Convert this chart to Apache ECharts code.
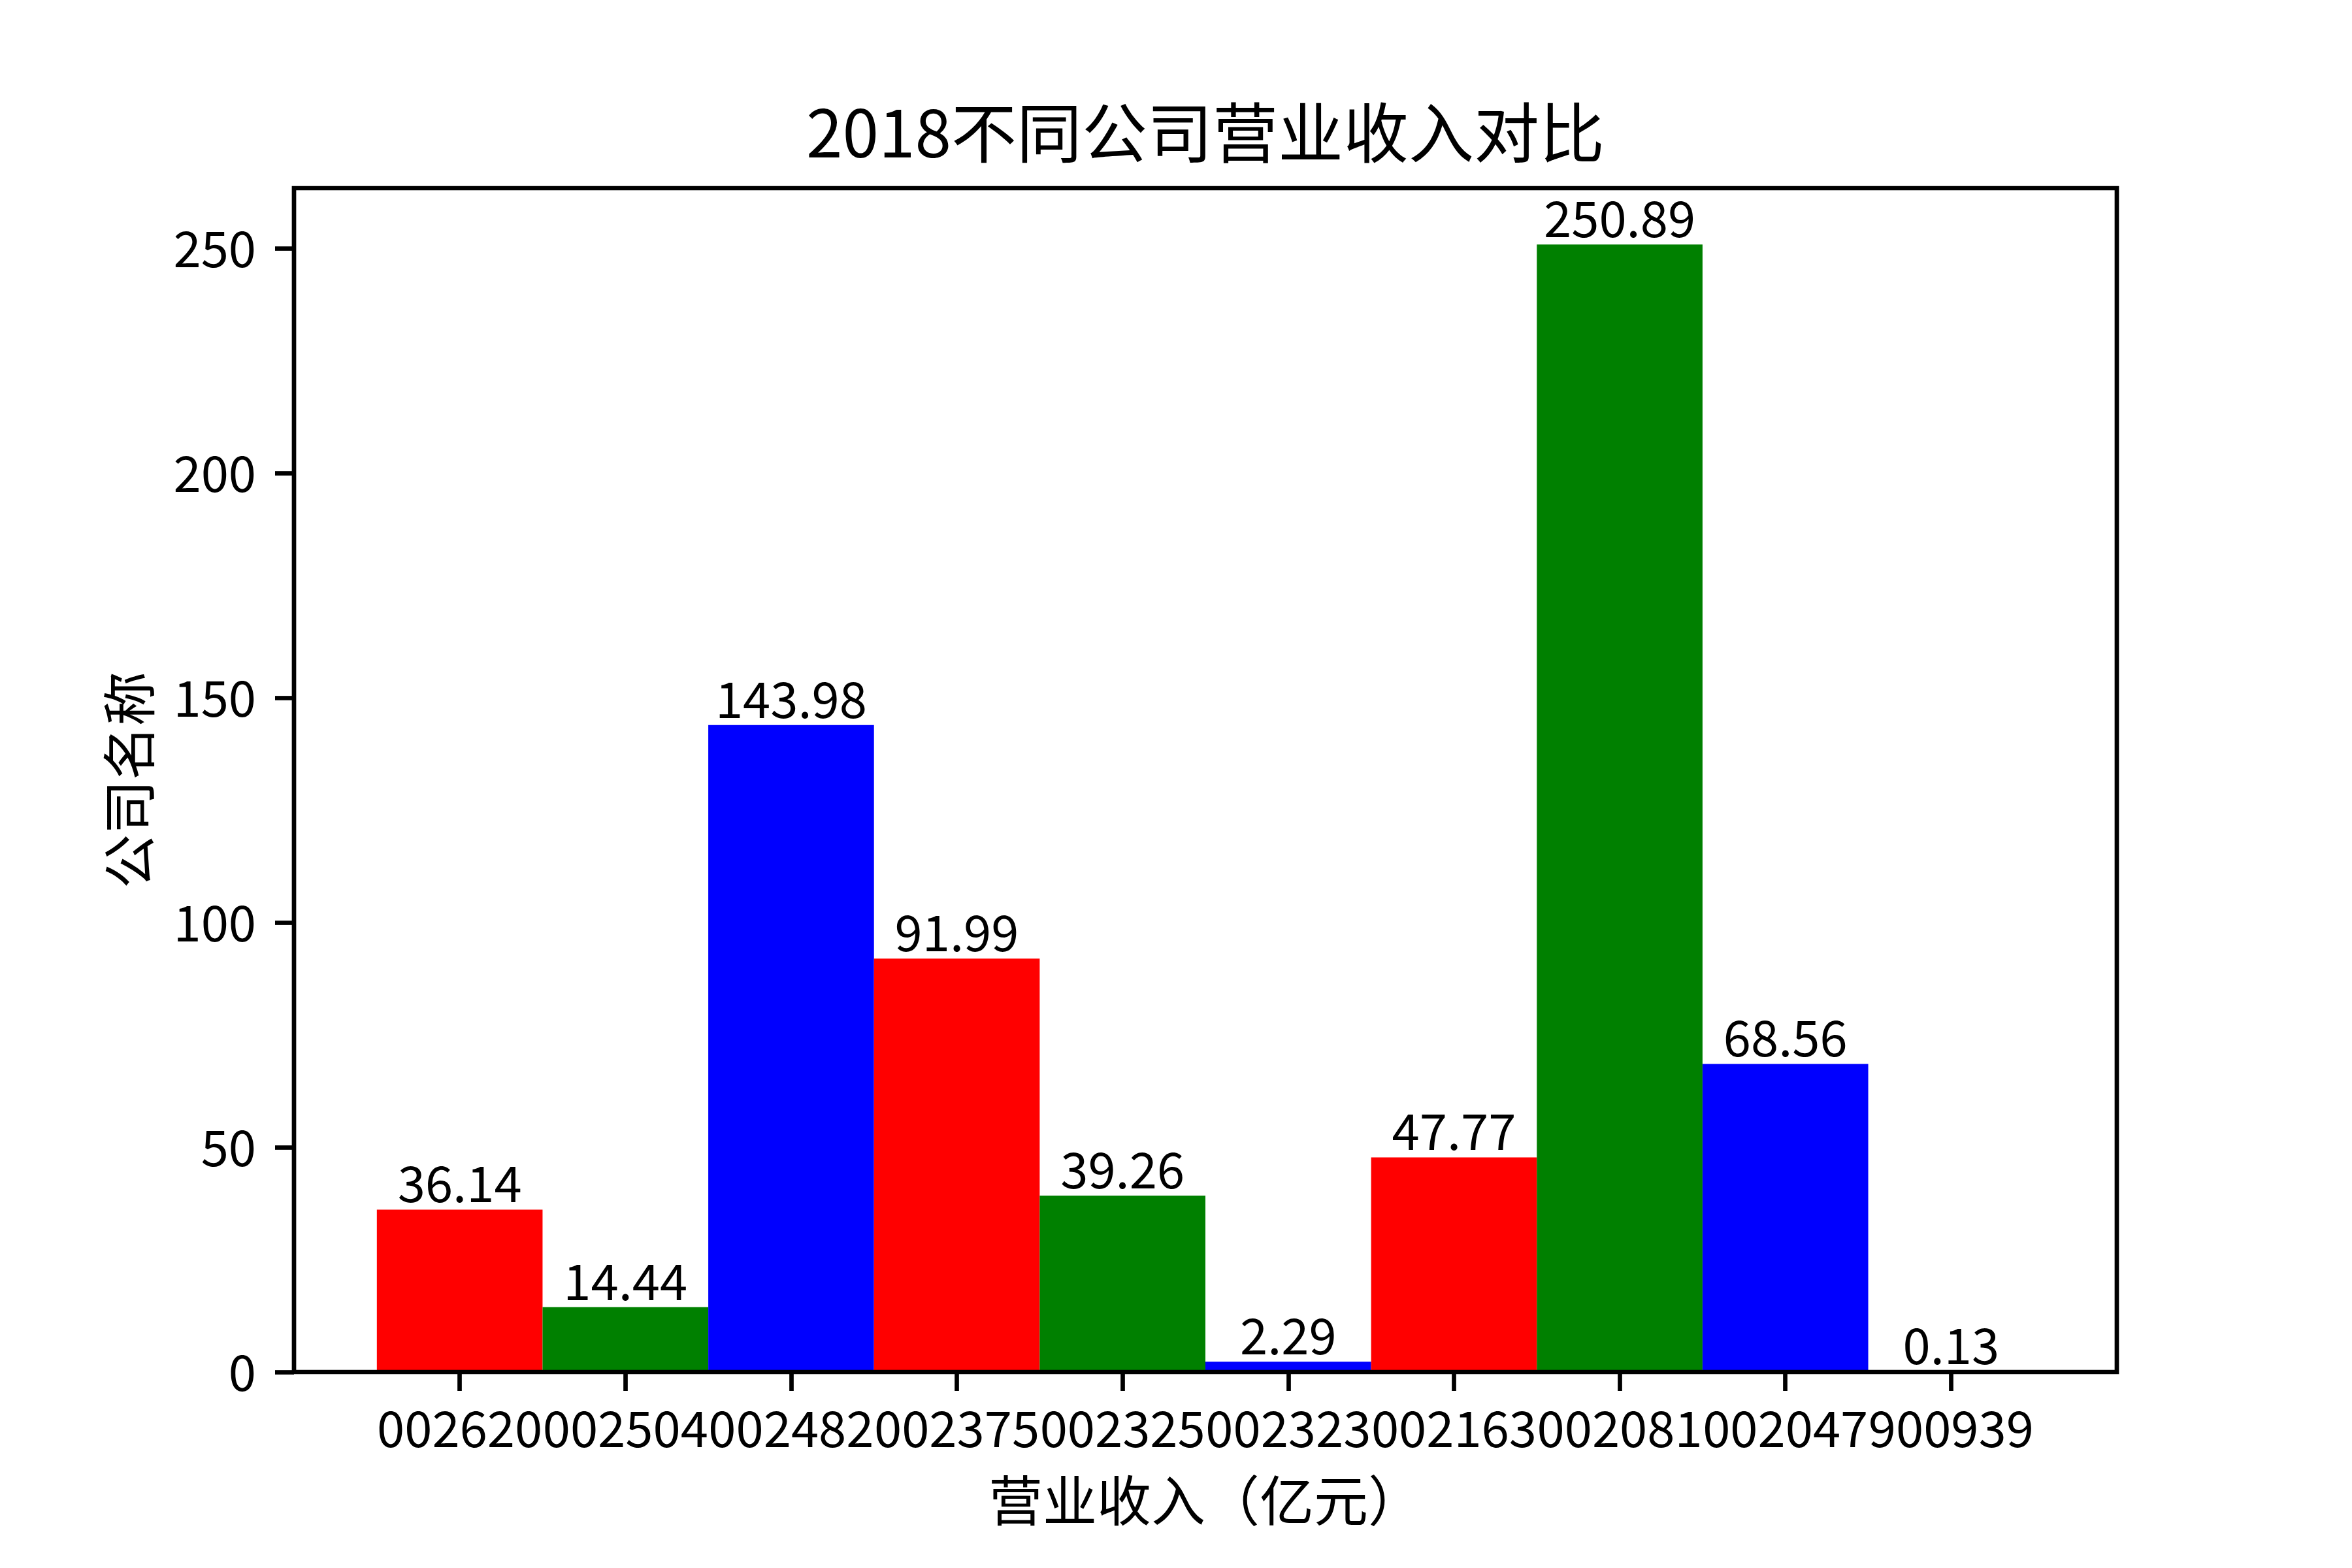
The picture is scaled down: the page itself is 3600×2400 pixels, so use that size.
<!DOCTYPE html>
<html><head><meta charset="utf-8">
<script src="https://cdn.jsdelivr.net/npm/echarts@6/dist/echarts.min.js"></script>
<style>html,body{margin:0;padding:0;background:#fff}#c{width:3600px;height:2400px}</style>
</head><body><div id="c"></div>
<script>
const categories = ['002620','002504','002482','002375','002325','002323','002163','002081','002047','900939'];
const revenue = [36.14,14.44,143.98,91.99,39.26,2.29,47.77,250.89,68.56,0.13];
const barColors = ['#ff0000','#008000','#0000ff'];
const yTicks = [0,50,100,150,200,250];
const titleText = '2018不同公司营业收入对比';
const xName = '营业收入（亿元）';
const yName = '公司名称';

const yMax = Math.max(...revenue) * 1.05;
const W = 3600, H = 2400;
const L = 450, R = 360, T = 288, B = 300;
const unit = (W - L - R) / (categories.length + 1);
const FONT = '"Noto Sans CJK SC", "Noto Sans", sans-serif';

const chart = echarts.init(document.getElementById('c'), null, {renderer: 'canvas', devicePixelRatio: 1});
chart.setOption({
  animation: false,
  backgroundColor: '#fff',
  graphic: [{
    type: 'text', x: (L + W - R) / 2, y: 203, z: 100,
    style: {text: titleText, fontSize: 100, fontFamily: FONT, fill: '#000',
      align: 'center', verticalAlign: 'middle', textAlign: 'center', textVerticalAlign: 'middle'}
  }],
  grid: [
    {left: L, right: R, top: T, bottom: B, show: true, z: 10, borderColor: '#000', borderWidth: 6.7, backgroundColor: 'transparent'},
    {left: L + unit / 2, right: R + unit / 2, top: T, bottom: B}
  ],
  xAxis: [
    {gridIndex: 0, type: 'value', min: 0, max: 1, show: false},
    {gridIndex: 1, type: 'category', data: categories, boundaryGap: true,
      axisLine: {show: false},
      axisTick: {show: true, alignWithLabel: true, length: 29, lineStyle: {color: '#000', width: 6.7}},
      axisLabel: {interval: 0, margin: 48, fontSize: 76, fontFamily: FONT, color: '#000', lineHeight: 76},
      splitLine: {show: false},
      name: xName, nameLocation: 'middle', nameGap: 155,
      nameTextStyle: {fontSize: 83, fontFamily: FONT, color: '#000', lineHeight: 83}}
  ],
  yAxis: [
    {gridIndex: 0, type: 'value', min: 0, max: yMax, interval: 50,
      axisLine: {show: false},
      axisTick: {show: true, length: 29, lineStyle: {color: '#000', width: 6.7}, customValues: yTicks},
      axisLabel: {margin: 58, fontSize: 76, fontFamily: FONT, color: '#000', customValues: yTicks},
      splitLine: {show: false},
      name: yName, nameLocation: 'middle', nameGap: 211,
      nameTextStyle: {fontSize: 83, fontFamily: FONT, color: '#000', lineHeight: 83}},
    {gridIndex: 1, type: 'value', min: 0, max: yMax, show: false}
  ],
  series: [{
    type: 'bar', xAxisIndex: 1, yAxisIndex: 1,
    data: revenue.map((v, i) => ({value: v, itemStyle: {color: barColors[i % 3]}})),
    barWidth: '100%', barCategoryGap: '0%',
    label: {show: true, position: 'top', distance: 2, formatter: p => p.value.toFixed(2),
      fontSize: 76, fontFamily: FONT, color: '#000', lineHeight: 76}
  }]
});
</script>
</body></html>
